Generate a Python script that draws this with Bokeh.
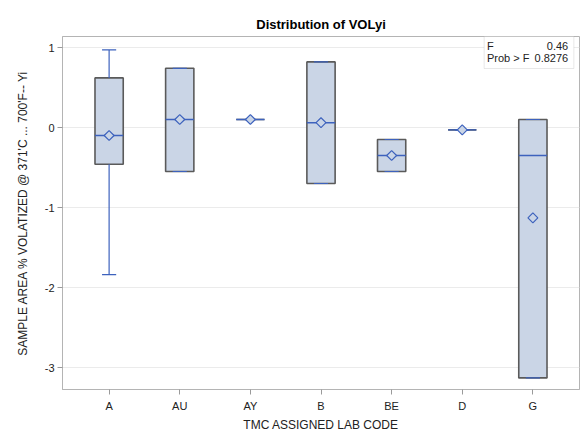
from bokeh.plotting import figure
from bokeh.models import FactorRange, Range1d, FixedTicker, BoxAnnotation, Label, ColumnDataSource
from bokeh.transform import dodge
from bokeh.embed import file_html
from bokeh.resources import INLINE

labs = ["A", "AU", "AY", "B", "BE", "D", "G"]
q1 = [-0.46, -0.55, 0.10, -0.70, -0.55, -0.03, -3.13]
med = [-0.10, 0.10, 0.10, 0.06, -0.35, -0.03, -0.35]
q3 = [0.62, 0.74, 0.10, 0.82, -0.15, -0.03, 0.10]
lo = [-1.84, -0.55, 0.10, -0.70, -0.55, -0.03, -3.13]
hi = [0.97, 0.74, 0.10, 0.82, -0.15, -0.03, 0.10]
mean = [-0.10, 0.10, 0.10, 0.06, -0.35, -0.03, -1.13]
yticks = [-3, -2, -1, 0, 1]
ytick_labels = {-3: "-3", -2: "-2", -1: "-1", 0: "0", 1: "1"}
stat_names = ["F", "Prob > F"]
stat_vals = ["0.46", "0.8276"]

FILL = "#cad5e6"
EDGE = "#5a5a5a"
BLUE = "#3d62bd"
FONT = "Liberation Sans"

src = ColumnDataSource(dict(lab=labs, q1=q1, med=med, q3=q3, lo=lo, hi=hi, mean=mean))

xr = FactorRange(factors=labs, range_padding=0.16, range_padding_units="absolute")
p = figure(x_range=xr, y_range=Range1d(-3.275, 1.1375), width=586, height=441,
           output_backend="svg", toolbar_location=None,
           title="Distribution of VOLyi",
           min_border_left=62, min_border_right=7, min_border_top=36, min_border_bottom=52)

p.title.align = "center"
p.title.text_font = FONT
p.title.text_font_size = "13px"
p.title.text_font_style = "bold"
p.title.text_color = "#000000"
p.title.offset = 0
p.title.standoff = 10

p.outline_line_color = "#b4b4b4"
p.xgrid.grid_line_color = None
p.ygrid.grid_line_color = "#ebebeb"
p.yaxis.ticker = FixedTicker(ticks=yticks)
p.yaxis.major_label_overrides = ytick_labels

for ax in (p.xaxis[0], p.yaxis[0]):
    ax.axis_line_color = "#b4b4b4"
    ax.major_tick_line_color = "#9a9a9a"
    ax.minor_tick_line_color = None
    ax.major_tick_out = 5
    ax.major_tick_in = 0
    ax.major_label_text_font = FONT
    ax.major_label_text_font_size = "11px"
    ax.major_label_text_color = "#222222"
    ax.axis_label_text_font = FONT
    ax.axis_label_text_font_size = "12px"
    ax.axis_label_text_font_style = "normal"
    ax.axis_label_text_color = "#222222"

p.xaxis.axis_label = "TMC ASSIGNED LAB CODE"
p.yaxis.axis_label = "SAMPLE AREA % VOLATIZED @ 371'C ... 700'F-- Yi"
p.xaxis.major_label_standoff = 5
p.yaxis.major_label_standoff = 3
p.xaxis.axis_label_standoff = 3
p.yaxis.axis_label_standoff = 12

# boxes
p.vbar(x="lab", top="q3", bottom="q1", width=0.4, source=src,
       fill_color=FILL, line_color=EDGE, line_width=1.6)
# whiskers
p.segment(x0="lab", x1="lab", y0="q3", y1="hi", source=src, line_color=BLUE, line_width=1.2)
p.segment(x0="lab", x1="lab", y0="q1", y1="lo", source=src, line_color=BLUE, line_width=1.2)
# caps
p.segment(x0=dodge("lab", -0.1, range=xr), x1=dodge("lab", 0.1, range=xr), y0="hi", y1="hi",
          source=src, line_color=BLUE, line_width=1.2)
p.segment(x0=dodge("lab", -0.1, range=xr), x1=dodge("lab", 0.1, range=xr), y0="lo", y1="lo",
          source=src, line_color=BLUE, line_width=1.2)
# median
p.segment(x0=dodge("lab", -0.2, range=xr), x1=dodge("lab", 0.2, range=xr), y0="med", y1="med",
          source=src, line_color=BLUE, line_width=1.4)
# mean
p.scatter(x="lab", y="mean", source=src, marker="square", angle=0.785398, size=7,
          fill_color=FILL, line_color=BLUE, line_width=1.2)

# stats inset
p.add_layout(BoxAnnotation(left=5.81, right=7.08, top=1.1375, bottom=0.7375,
                           fill_color="white", fill_alpha=1, line_color="#b4b4b4", line_width=1))
for name, val, yy in zip(stat_names, stat_vals, [1.025, 0.875]):
    p.add_layout(Label(x=5.85, y=yy, text=name, text_font=FONT, text_font_size="11px",
                       text_baseline="middle", text_align="left", text_color="#222222"))
    p.add_layout(Label(x=7.0, y=yy, text=val, text_font=FONT, text_font_size="11px",
                       text_baseline="middle", text_align="right", text_color="#222222"))

open("out.html", "w").write(file_html(p, INLINE))
